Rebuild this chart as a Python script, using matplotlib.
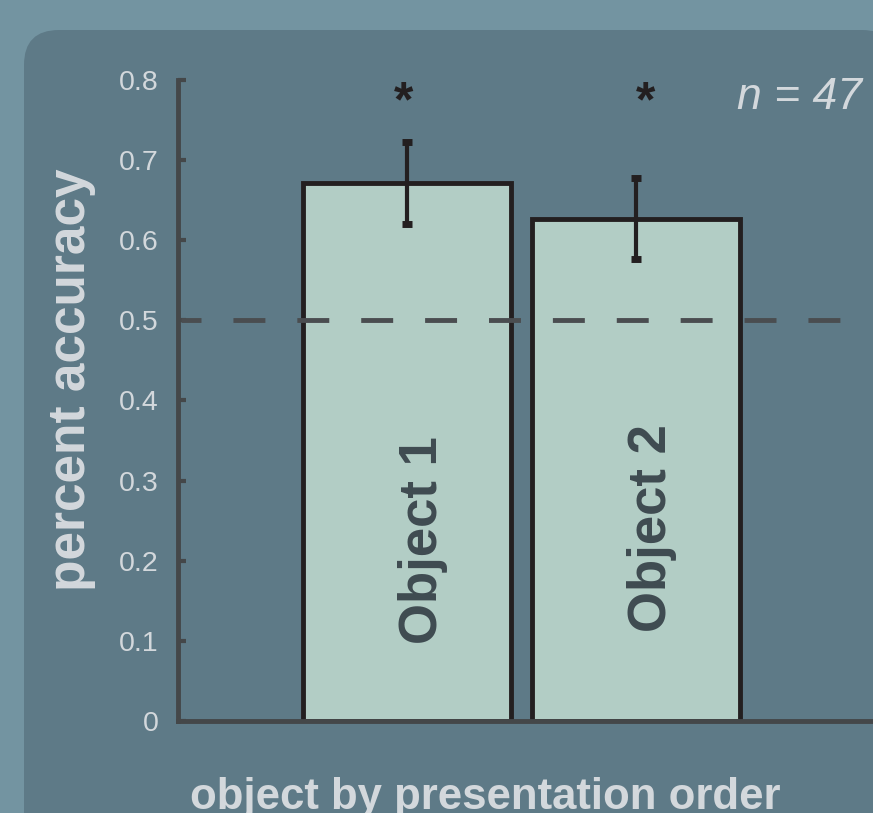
import matplotlib.pyplot as plt
from matplotlib.patches import FancyBboxPatch

plt.rcParams['font.family'] = ['Liberation Sans', 'DejaVu Sans']
plt.rcParams['lines.scale_dashes'] = False

# mean accuracy per object, with error (SEM)
objects = ['Object 1', 'Object 2']
accuracy = [0.671, 0.627]
errors = [0.051, 0.051]
significant = [True, True]
chance = 0.5
n_subjects = 47
yticks = [0, 0.1, 0.2, 0.3, 0.4, 0.5, 0.6, 0.7, 0.8]

outer_bg = '#7394a1'
panel_bg = '#5e7a87'
light_txt = '#d3d8dc'
axis_col = '#444749'
bar_fill = '#b2cdc5'
ink = '#231f20'

fig = plt.figure(figsize=(8.73, 8.13), dpi=100)
fig.patch.set_facecolor(outer_bg)

# darker rounded panel behind the plot
panel = FancyBboxPatch((24 / 873, 0.0 - 0.1), 1.0, (813 - 30) / 813 + 0.1,
                       boxstyle='round,pad=0,rounding_size=0.04',
                       transform=fig.transFigure, facecolor=panel_bg,
                       edgecolor='none', zorder=-10, mutation_aspect=873 / 813)
fig.patches.append(panel)

ax = fig.add_axes([178 / 873, 1 - 721 / 813, (900 - 178) / 873, 641 / 813])
ax.set_facecolor('none')
ax.set_zorder(1)

xpos = [1, 2]
ax.bar(xpos, accuracy, width=0.908, color=bar_fill, edgecolor=ink,
       linewidth=3.5, zorder=2)
ax.errorbar(xpos, accuracy, yerr=errors, fmt='none', ecolor=ink,
            elinewidth=3, capsize=3.5, capthick=5, zorder=4)

# chance level
ax.plot([0.013, 2.9], [chance, chance], color='#4a4d50', linewidth=3.5,
        linestyle=(8.6, (23, 23)), zorder=3, solid_capstyle='butt',
        dash_capstyle='butt')

label_y = [0.226, 0.241]
for x, name, ly in zip(xpos, objects, label_y):
    ax.text(x + 0.07, ly, name, rotation=90, ha='center', va='center',
            fontsize=38, fontweight='bold', color='#3f4b51', zorder=5)

star_dx = [-0.015, 0.04]
for x, sig, dx in zip(xpos, significant, star_dx):
    if sig:
        ax.text(x + dx, 0.8, '*', ha='center', va='top', fontsize=36,
                fontweight='bold', color=ink, zorder=5)

ax.text(2.985, 0.778, f'n = {n_subjects}', ha='right', va='center',
        fontsize=32, style='italic', color=light_txt)

ax.set_xlim(0, 3.15)
ax.set_ylim(0, 0.8)
ax.set_yticks(yticks)
ax.set_yticklabels(['0' if t == 0 else f'{t:.1f}' for t in yticks])
ax.set_xticks([])

for side in ['top', 'right']:
    ax.spines[side].set_visible(False)
for side in ['left', 'bottom']:
    ax.spines[side].set_color(axis_col)
    ax.spines[side].set_linewidth(3.5)
    ax.spines[side].set_capstyle('projecting')

ax.tick_params(axis='y', direction='in', length=6, width=3, color=axis_col,
               labelcolor=light_txt, labelsize=20.5, pad=14)

fig.text(72 / 873, 1 - 380 / 813, 'percent accuracy', rotation=90,
         ha='center', va='center', fontsize=37, fontweight='bold',
         color=light_txt)
fig.text(485 / 873, 1 - 797 / 813, 'object by presentation order',
         ha='center', va='center', fontsize=31.5, fontweight='bold',
         color=light_txt)

fig.savefig('out.png', dpi=100, facecolor=fig.get_facecolor())
